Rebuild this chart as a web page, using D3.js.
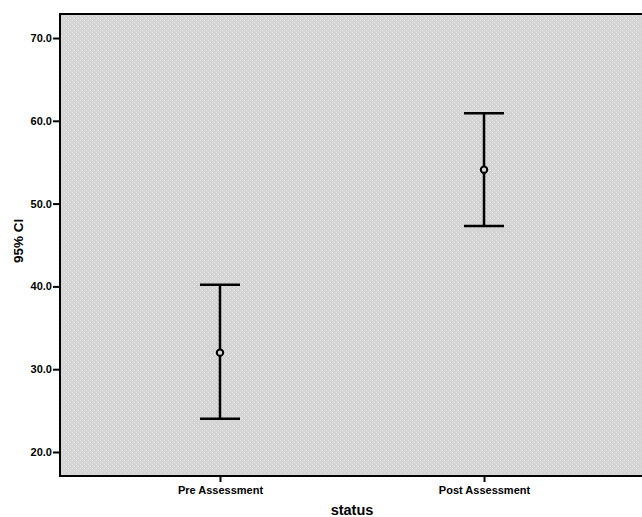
<!DOCTYPE html>
<html>
<head>
<meta charset="utf-8">
<script src="https://cdn.jsdelivr.net/npm/d3@7"></script>
<style>
  body { margin: 0; background: #ffffff; overflow: hidden; }
  text { font-family: "Liberation Sans", Arial, sans-serif; font-weight: bold; fill: #000; }
</style>
</head>
<body>
<script>
// Data
const categories = ["Pre Assessment", "Post Assessment"];
const means = [32.0, 54.1];
const lower = [24.0, 47.3];
const upper = [40.2, 60.9];
const yTicks = [20, 30, 40, 50, 60, 70];

const width = 642;
const height = 517;
const margin = {top: 14, right: -2, bottom: 41, left: 60};

const svg = d3.select('body')
  .append('svg')
  .attr('width', width)
  .attr('height', height);

// dithered grey fill like the original
const defs = svg.append('defs');
const pat = defs.append('pattern')
  .attr('id', 'dither')
  .attr('width', 4).attr('height', 4)
  .attr('patternUnits', 'userSpaceOnUse');
pat.append('rect').attr('width', 4).attr('height', 4).attr('fill', '#d5d5d5');
pat.append('rect').attr('x', 0).attr('y', 0).attr('width', 1).attr('height', 1).attr('fill', '#dedede');
pat.append('rect').attr('x', 2).attr('y', 2).attr('width', 1).attr('height', 1).attr('fill', '#dedede');

// Scales
const yScale = d3.scaleLinear()
  .domain([17.1, 72.9])
  .range([height - margin.bottom, margin.top]);

const xScale = d3.scalePoint()
  .domain(categories)
  .range([margin.left, width - margin.right])
  .padding(0.606);

// plot background
svg.append('rect')
  .attr('x', margin.left)
  .attr('y', margin.top)
  .attr('width', width - margin.right - margin.left)
  .attr('height', height - margin.bottom - margin.top)
  .attr('fill', 'url(#dither)')
  .attr('stroke', '#000')
  .attr('stroke-width', 2);

// Axes
const yAxis = d3.axisLeft(yScale)
  .tickValues(yTicks)
  .tickFormat(d3.format('.1f'))
  .tickSize(7)
  .tickPadding(1);

const gy = svg.append('g')
  .attr('transform', 'translate(' + margin.left + ',0)')
  .call(yAxis);
gy.select('.domain').remove();
gy.selectAll('.tick line').attr('stroke', '#000').attr('stroke-width', 2);
gy.selectAll('.tick text').style('font-size', '11px');

const xAxis = d3.axisBottom(xScale)
  .tickSize(6)
  .tickPadding(4);

const gx = svg.append('g')
  .attr('transform', 'translate(0,' + (height - margin.bottom) + ')')
  .call(xAxis);
gx.select('.domain').remove();
gx.selectAll('.tick line').attr('stroke', '#000').attr('stroke-width', 2);
gx.selectAll('.tick text').style('font-size', '11px');

// Axis titles
svg.append('text')
  .attr('x', xScale(categories[0]) + (xScale(categories[1]) - xScale(categories[0])) / 2)
  .attr('y', 515)
  .attr('text-anchor', 'middle')
  .style('font-size', '14.5px')
  .text('status');

svg.append('text')
  .attr('transform', 'translate(22.5,' + yScale(45.5) + ') rotate(-90)')
  .attr('text-anchor', 'middle')
  .style('font-size', '13.5px')
  .text('95% CI');

// Error bars
const bars = svg.append('g').selectAll('g')
  .data(categories.map((c, i) => ({c, m: means[i], lo: lower[i], hi: upper[i]})))
  .join('g');

bars.append('line')
  .attr('x1', d => xScale(d.c)).attr('x2', d => xScale(d.c))
  .attr('y1', d => yScale(d.lo)).attr('y2', d => yScale(d.hi))
  .attr('stroke', '#000').attr('stroke-width', 2.5);

bars.selectAll('line.cap')
  .data(d => [[d.c, d.lo], [d.c, d.hi]])
  .join('line')
  .classed('cap', true)
  .attr('x1', d => xScale(d[0]) - 20).attr('x2', d => xScale(d[0]) + 20)
  .attr('y1', d => yScale(d[1])).attr('y2', d => yScale(d[1]))
  .attr('stroke', '#000').attr('stroke-width', 2.5);

bars.append('circle')
  .attr('cx', d => xScale(d.c))
  .attr('cy', d => yScale(d.m))
  .attr('r', 3.2)
  .attr('fill', '#d5d5d5')
  .attr('stroke', '#000')
  .attr('stroke-width', 2);
</script>
</body>
</html>
